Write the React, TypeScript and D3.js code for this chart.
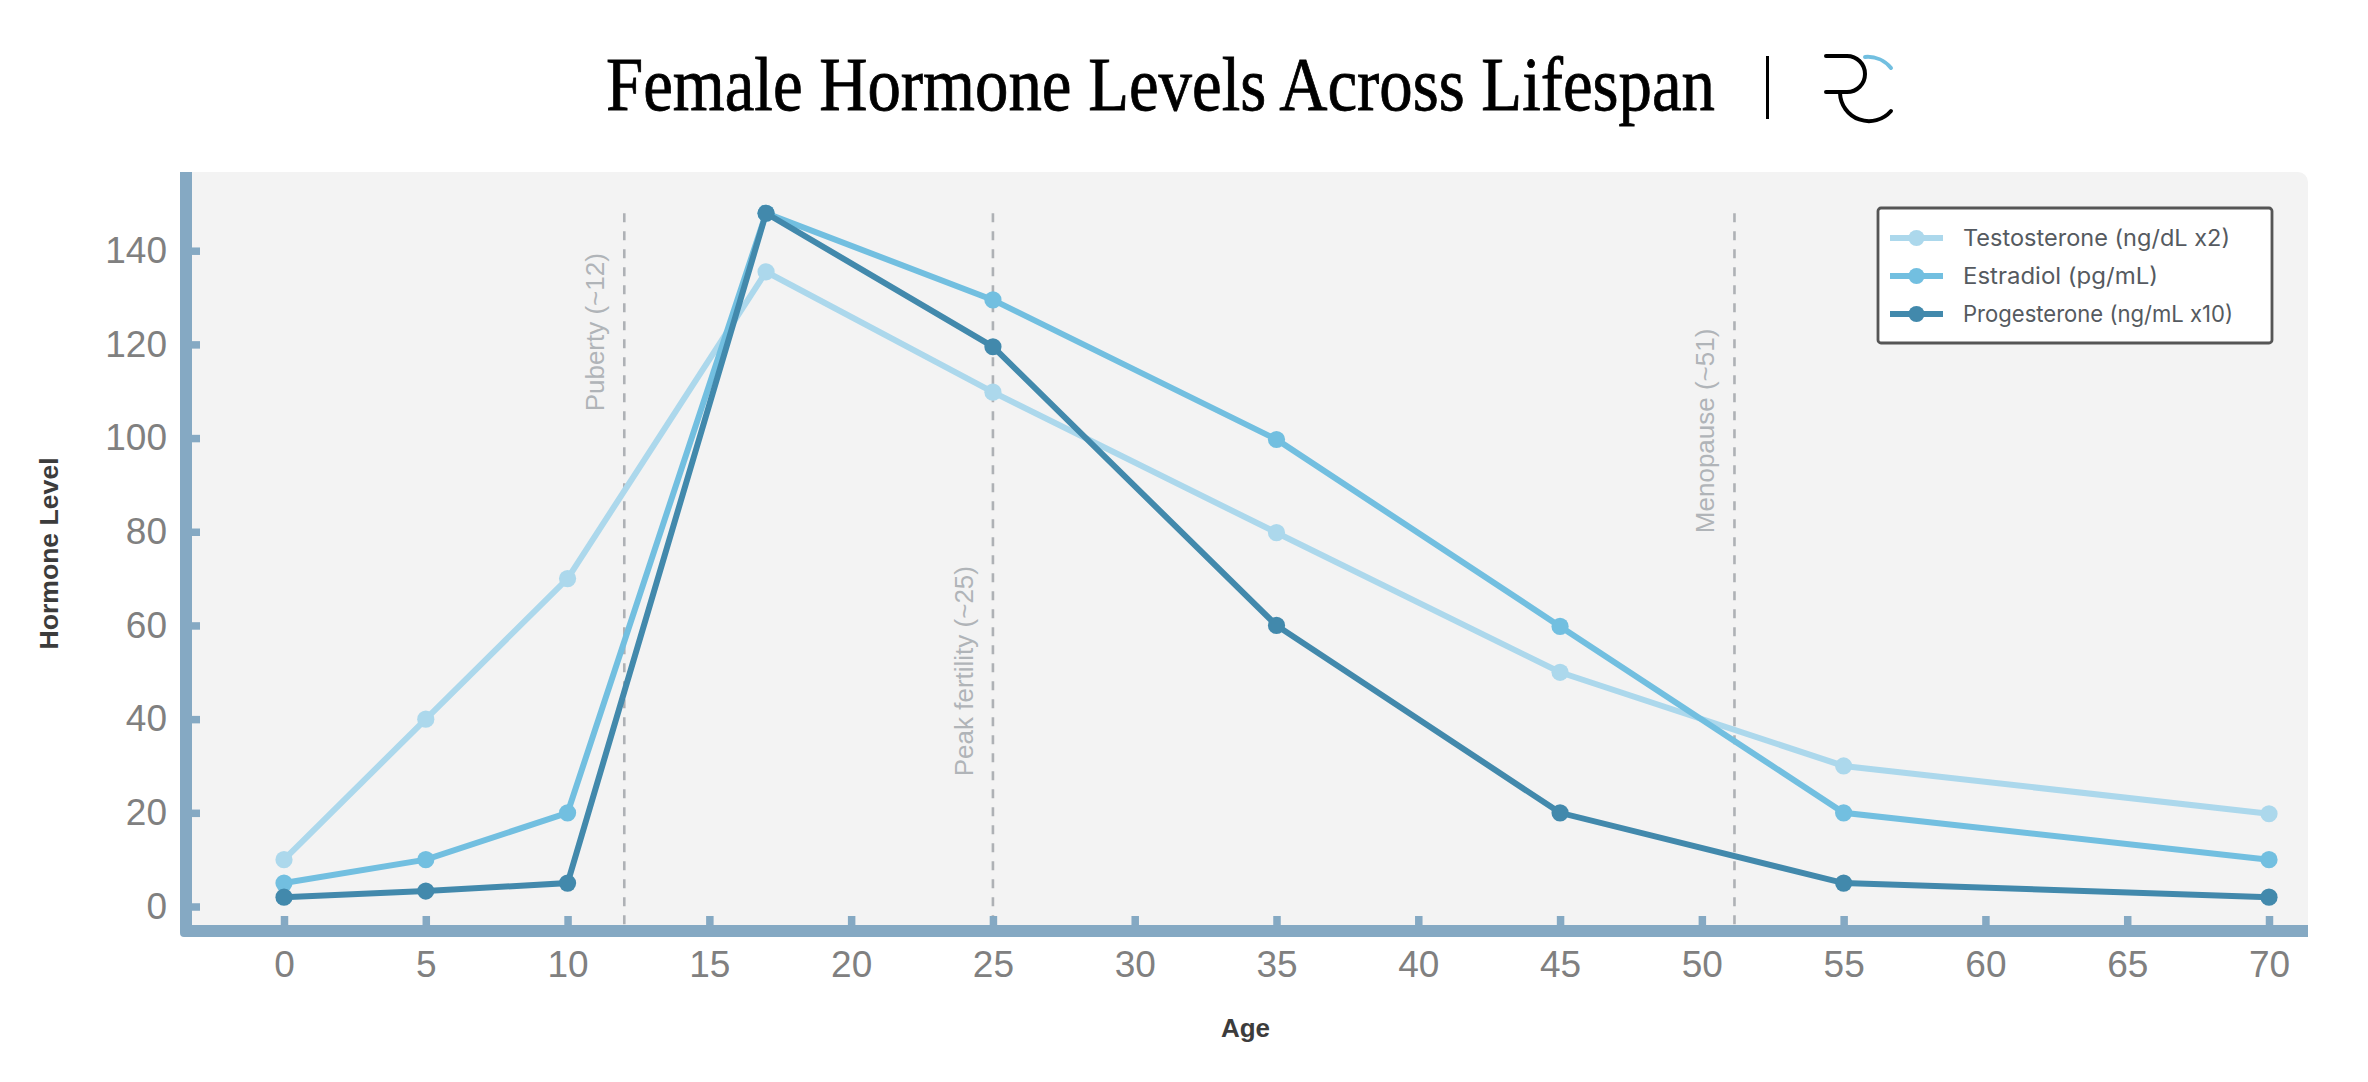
import { useEffect, useRef } from 'react';
import * as d3 from 'd3';

const ages = [0, 5, 10, 17, 25, 35, 45, 55, 70];
const testosterone = [10, 40, 70, 135.5, 109.8, 79.8, 50, 30, 19.8];
const estradiol = [5, 10, 20, 148, 129.5, 99.7, 59.8, 20, 10];
const progesterone = [2, 3.3, 5, 148, 119.5, 60, 20, 5, 2];

const seriesNames = ['Testosterone (ng/dL x2)', 'Estradiol (pg/mL)', 'Progesterone (ng/mL x10)'];
const seriesColors = ['#acd8ec', '#72bfe0', '#4289ac'];

const ageTicks = [0, 5, 10, 15, 20, 25, 30, 35, 40, 45, 50, 55, 60, 65, 70];
const levelTicks = [0, 20, 40, 60, 80, 100, 120, 140];

const milestoneAges = [12, 25, 51.15];
const milestoneLabels = ['Puberty (~12)', 'Peak fertility (~25)', 'Menopause (~51)'];
const milestoneLabelLevels = [105.7, 27.8, 79.7];

const WIDTH = 2368;
const HEIGHT = 1082;
const SANS = '"Liberation Sans", Arial, sans-serif';
const SPINE = '#85a9c3';

export default function App() {
  const svgRef = useRef<SVGSVGElement>(null);

  useEffect(() => {
    if (!svgRef.current) return;
    const svg = d3.select(svgRef.current);
    svg.selectAll('*').remove();

    const plot = { left: 180, right: 2308, top: 172, bottom: 925 };
    const spineWidth = 12;

    const x = d3.scaleLinear().domain([0, 70]).range([284, 2269]);
    const y = d3.scaleLinear().domain([0, 140]).range([906.5, 250.7]);

    // Title and logo
    svg.append('text')
      .attr('x', 606)
      .attr('y', 110)
      .attr('textLength', 1109)
      .attr('lengthAdjust', 'spacingAndGlyphs')
      .attr('font-family', '"Liberation Serif", serif')
      .attr('font-size', 76)
      .attr('fill', '#000')
      .attr('stroke', '#000')
      .attr('stroke-width', 0.8)
      .text('Female Hormone Levels Across Lifespan');

    svg.append('rect').attr('x', 1766).attr('y', 56).attr('width', 3).attr('height', 63).attr('fill', '#000');

    const logo = svg.append('g').attr('fill', 'none').attr('stroke-linecap', 'round').attr('stroke-width', 4);
    logo.append('path').attr('stroke', '#000').attr('d', 'M1826 56H1847A18 18 0 0 1 1847 92H1826');
    logo.append('path').attr('stroke', '#000').attr('d', 'M1840 93A29 29 0 0 0 1891 111');
    logo.append('path').attr('stroke', '#72bfe0').attr('d', 'M1865 57A30 30 0 0 1 1891 68');

    // Plot background
    svg.append('path')
      .attr('fill', '#f3f3f3')
      .attr('d', `M${plot.left} ${plot.top}H${plot.right - 10}a10 10 0 0 1 10 10V${plot.bottom}H${plot.left}Z`);

    // Milestones
    milestoneAges.forEach((age, i) => {
      svg.append('line')
        .attr('x1', x(age))
        .attr('x2', x(age))
        .attr('y1', y(148))
        .attr('y2', plot.bottom)
        .attr('stroke', '#aeb1b5')
        .attr('stroke-width', 2.6)
        .attr('stroke-dasharray', '9 9');
      svg.append('text')
        .attr('transform', `translate(${x(age) - 20},${y(milestoneLabelLevels[i])}) rotate(-90)`)
        .attr('font-family', SANS)
        .attr('font-size', 26)
        .attr('fill', '#b0b4b8')
        .text(milestoneLabels[i]);
    });

    // Axes
    const xAxis = svg.append('g')
      .attr('transform', `translate(0,${plot.bottom})`)
      .call(d3.axisBottom(x).tickValues(ageTicks).tickSizeInner(-9).tickSizeOuter(0).tickPadding(26));
    const yAxis = svg.append('g')
      .attr('transform', `translate(${plot.left + spineWidth},0)`)
      .call(d3.axisLeft(y).tickValues(levelTicks).tickSizeInner(-8).tickSizeOuter(0).tickPadding(25));

    [xAxis, yAxis].forEach(axis => {
      axis.select('.domain').remove();
      axis.selectAll('.tick line').attr('stroke', SPINE).attr('stroke-width', 7.5);
      axis.selectAll('.tick text')
        .attr('fill', '#808080')
        .attr('font-family', SANS)
        .attr('font-size', 37);
    });

    // Spines, rounded at the bottom left corner
    const b = plot.bottom + spineWidth;
    svg.append('path')
      .attr('fill', SPINE)
      .attr('d', `M${plot.left} ${plot.top}H${plot.left + spineWidth}V${plot.bottom}H${plot.right}V${b}H${plot.left + 4}a4 4 0 0 1 -4 -4Z`);

    // Axis titles
    svg.append('text')
      .attr('x', 1245.5)
      .attr('y', 1037)
      .attr('text-anchor', 'middle')
      .attr('font-family', SANS)
      .attr('font-weight', 700)
      .attr('font-size', 26)
      .attr('fill', '#3c3c3c')
      .text('Age');
    svg.append('text')
      .attr('transform', 'translate(58,553.5) rotate(-90)')
      .attr('text-anchor', 'middle')
      .attr('font-family', SANS)
      .attr('font-weight', 700)
      .attr('font-size', 26.6)
      .attr('fill', '#3c3c3c')
      .text('Hormone Level');

    // Series
    const line = d3.line<number>().x((_, i) => x(ages[i])).y(d => y(d));
    [testosterone, estradiol, progesterone].forEach((values, s) => {
      svg.append('path')
        .attr('d', line(values))
        .attr('fill', 'none')
        .attr('stroke', seriesColors[s])
        .attr('stroke-width', 6);
      svg.append('g')
        .selectAll('circle')
        .data(values)
        .enter()
        .append('circle')
        .attr('cx', (_, i) => x(ages[i]))
        .attr('cy', d => y(d))
        .attr('r', 8.6)
        .attr('fill', seriesColors[s]);
    });

    // Legend
    const legendTextWidths = [267, 195, 270];
    const legend = svg.append('g');
    legend.append('rect')
      .attr('x', 1878).attr('y', 208)
      .attr('width', 394).attr('height', 135)
      .attr('rx', 3)
      .attr('fill', '#fff')
      .attr('stroke', '#555')
      .attr('stroke-width', 2.8);
    seriesNames.forEach((name, i) => {
      const rowY = 238 + i * 38;
      legend.append('line')
        .attr('x1', 1890).attr('x2', 1943)
        .attr('y1', rowY).attr('y2', rowY)
        .attr('stroke', seriesColors[i])
        .attr('stroke-width', 6);
      legend.append('circle')
        .attr('cx', 1916.5).attr('cy', rowY).attr('r', 8)
        .attr('fill', seriesColors[i]);
      legend.append('text')
        .attr('x', 1963)
        .attr('y', rowY)
        .attr('dy', '0.35em')
        .attr('textLength', legendTextWidths[i])
        .attr('lengthAdjust', 'spacingAndGlyphs')
        .attr('font-family', 'Inter, sans-serif')
        .attr('font-size', 22.6)
        .attr('fill', '#555a60')
        .text(name);
    });
  }, []);

  return (
    <svg
      ref={svgRef}
      width={WIDTH}
      height={HEIGHT}
      viewBox={`0 0 ${WIDTH} ${HEIGHT}`}
      style={{ position: 'absolute', left: 0, top: 0, background: '#fff' }}
    />
  );
}
